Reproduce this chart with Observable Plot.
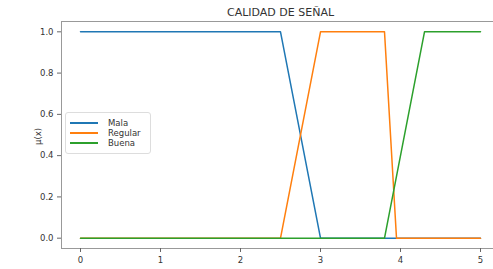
<!DOCTYPE html>
<html><head><meta charset="utf-8">
<script src="https://cdn.jsdelivr.net/npm/d3@7"></script>
<script src="https://cdn.jsdelivr.net/npm/@observablehq/plot@0.6"></script>
<style>
body{margin:0;background:#fff;font-family:"DejaVu Sans",sans-serif;}
#wrap{position:relative;width:493px;height:269px;overflow:hidden;}
#legend{position:absolute;left:65px;top:112px;width:84px;height:40px;border:1px solid #ddd;border-radius:3px;background:rgba(255,255,255,0.8);font-size:8.5px;color:#333;}
.li{position:absolute;left:4px;height:10px;display:flex;align-items:center;}
.li span.sw{display:inline-block;width:28px;height:1.5px;margin-right:10px;}
</style>
</head><body>
<div id="wrap"><div id="legend"></div></div>
<script>
const title = "CALIDAD DE SEÑAL";
const yLabel = "μ(x)";
const seriesNames = ["Mala", "Regular", "Buena"];
const colors = ["#1f77b4", "#ff7f0e", "#2ca02c"];
const malaX = [0, 2.5, 3, 5];
const malaY = [1, 1, 0, 0];
const regularX = [0, 2.5, 3, 3.8, 3.95, 5];
const regularY = [0, 0, 1, 1, 0, 0];
const buenaX = [0, 3.8, 4.3, 5];
const buenaY = [0, 0, 1, 1];
const xTicks = [0, 1, 2, 3, 4, 5];
const yTicks = [0, 0.2, 0.4, 0.6, 0.8, 1.0];

const series = [[malaX, malaY], [regularX, regularY], [buenaX, buenaY]];
const rows = [];
seriesNames.forEach((s, i) => series[i][0].forEach((x, j) => rows.push({serie: s, x, y: series[i][1][j]})));

const plot = Plot.plot({
  width: 493, height: 269,
  marginLeft: 61, marginRight: 0, marginTop: 21, marginBottom: 21,
  style: {fontFamily: "DejaVu Sans, sans-serif", fontSize: "8.5px", color: "#333", background: "white"},
  x: {domain: [-0.2375, 5.1625], ticks: xTicks, tickFormat: d3.format("d"), label: null, tickSize: 4},
  y: {domain: [-0.05, 1.05], ticks: yTicks, tickFormat: d3.format(".1f"), label: null, tickSize: 4},
  color: {domain: seriesNames, range: colors},
  marks: [
    Plot.line(rows, {x: "x", y: "y", z: "serie", stroke: "serie", strokeWidth: 1.5}),
    Plot.frame({stroke: "#999", strokeWidth: 1}),
    Plot.axisX({ticks: xTicks, tickFormat: d3.format("d"), tickSize: 4, tickPadding: 4, label: null, stroke: "#666"}),
    Plot.axisY({ticks: yTicks, tickFormat: d3.format(".1f"), tickSize: 4, tickPadding: 4, label: null, stroke: "#666"}),
    Plot.text([title], {frameAnchor: "top", dy: -13, dx: 3, text: d => d, fontSize: 11, fill: "#333"}),
    Plot.text([yLabel], {frameAnchor: "left", dx: -23, dy: 10, rotate: -90, text: d => d, fontSize: 8.5, fill: "#333"})
  ]
});
document.getElementById("wrap").prepend(plot);
const lg = document.getElementById("legend");
seriesNames.forEach((s, i) => {
  const d = document.createElement("div");
  d.className = "li";
  d.style.top = (5 + i * 10) + "px";
  d.innerHTML = `<span class="sw" style="background:${colors[i]}"></span>${s}`;
  lg.appendChild(d);
});
</script>
</body></html>
